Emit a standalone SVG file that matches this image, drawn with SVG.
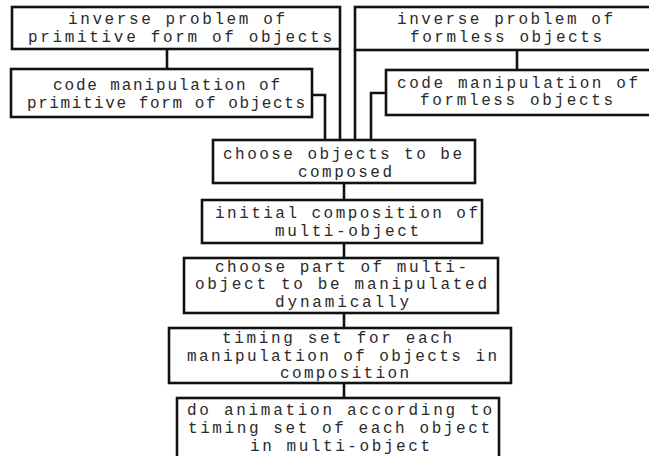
<svg xmlns="http://www.w3.org/2000/svg" width="649" height="456" viewBox="0 0 649 456">
<style>
.box{fill:#fff;stroke:#111;stroke-width:2.6}
.t{font-family:"Liberation Mono","Courier New",monospace;font-size:16px;fill:#2a2a2a}
.c{fill:none;stroke:#111;stroke-width:2.6}
</style>
<rect width="649" height="456" fill="#fff"/>
<g id="connectors">
<path class="c" d="M167,49V69"/>
<path class="c" d="M340,49V140"/>
<path class="c" d="M312,95H325V140"/>
<path class="c" d="M355,50V140"/>
<path class="c" d="M386,93H371V140"/>
<path class="c" d="M517,50V70"/>
<path class="c" d="M344,183V200M344,243V258M344,313V328M344,383V398"/>
</g>
<g id="n1">
<rect class="box" x="12" y="7" width="328" height="42"/>
<text class="t" x="68" y="24" textLength="217" lengthAdjust="spacing">inverse problem of</text>
<text class="t" x="28" y="42" textLength="304" lengthAdjust="spacing">primitive form of objects</text>
</g>
<g id="n2">
<rect class="box" x="11" y="69" width="301" height="48"/>
<text class="t" x="53" y="90" textLength="227" lengthAdjust="spacing">code manipulation of</text>
<text class="t" x="27" y="108" textLength="278" lengthAdjust="spacing">primitive form of objects</text>
</g>
<g id="n3">
<rect class="box" x="355" y="7" width="300" height="43"/>
<text class="t" x="397" y="24" textLength="216" lengthAdjust="spacing">inverse problem of</text>
<text class="t" x="410" y="42" textLength="192" lengthAdjust="spacing">formless objects</text>
</g>
<g id="n4">
<rect class="box" x="386" y="70" width="270" height="45"/>
<text class="t" x="397" y="88" textLength="241" lengthAdjust="spacing">code manipulation of</text>
<text class="t" x="420" y="105" textLength="193" lengthAdjust="spacing">formless objects</text>
</g>
<g id="n5">
<rect class="box" x="213" y="140" width="262" height="43"/>
<text class="t" x="223" y="159" textLength="239" lengthAdjust="spacing">choose objects to be</text>
<text class="t" x="298" y="177" textLength="94" lengthAdjust="spacing">composed</text>
</g>
<g id="n6">
<rect class="box" x="202" y="200" width="280" height="43"/>
<text class="t" x="215" y="218" textLength="263" lengthAdjust="spacing">initial composition of</text>
<text class="t" x="275" y="236" textLength="144" lengthAdjust="spacing">multi-object</text>
</g>
<g id="n7">
<rect class="box" x="184" y="258" width="314" height="55"/>
<text class="t" x="215" y="272" textLength="252" lengthAdjust="spacing">choose part of multi-</text>
<text class="t" x="195" y="289" textLength="292" lengthAdjust="spacing">object to be manipulated</text>
<text class="t" x="275" y="307" textLength="134" lengthAdjust="spacing">dynamically</text>
</g>
<g id="n8">
<rect class="box" x="169" y="328" width="342" height="55"/>
<text class="t" x="222" y="343" textLength="230" lengthAdjust="spacing">timing set for each</text>
<text class="t" x="187" y="361" textLength="310" lengthAdjust="spacing">manipulation of objects in</text>
<text class="t" x="280" y="378" textLength="129" lengthAdjust="spacing">composition</text>
</g>
<g id="n9">
<rect class="box" x="177" y="398" width="322" height="64"/>
<text class="t" x="187" y="415" textLength="305" lengthAdjust="spacing">do animation according to</text>
<text class="t" x="188" y="433" textLength="302" lengthAdjust="spacing">timing set of each object</text>
<text class="t" x="250" y="451" textLength="180" lengthAdjust="spacing">in multi-object</text>
</g>
</svg>
